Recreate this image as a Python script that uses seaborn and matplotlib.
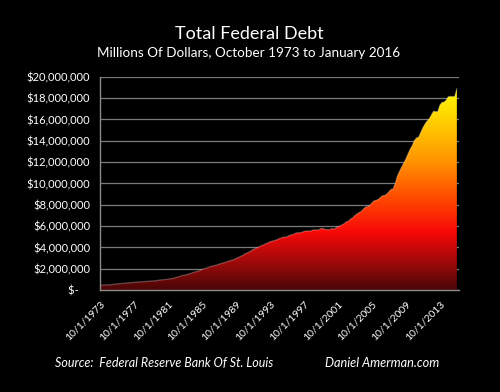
import numpy as np
import pandas as pd
import matplotlib
matplotlib.use("Agg")
import matplotlib.pyplot as plt
import seaborn as sns
from matplotlib.colors import LinearSegmentedColormap

# quarterly total federal debt, millions of dollars, 10/1/1973 .. 10/1/2015
debt = [
    469900,
    474200, 474700, 481400, 492700,
    509700, 533200, 554300, 576600,
    599400, 620400, 634700, 653500,
    670100, 685200, 698800, 718900,
    737700, 750900, 771500, 789200,
    799900, 812200, 826500, 845100,
    862800, 874300, 907700, 930200,
    964500, 971200, 997900, 1028700,
    1061300, 1086800, 1142000, 1197000,
    1244500, 1319600, 1377200, 1410700,
    1463700, 1517200, 1572300, 1663000,
    1710700, 1774600, 1823100, 1945900,
    1986800, 2059300, 2125300, 2214800,
    2246700, 2310300, 2350300, 2431700,
    2488000, 2547700, 2602300, 2684400,
    2740900, 2799900, 2857400, 2953000,
    3052000, 3143800, 3233300, 3364800,
    3465200, 3538000, 3665300, 3802000,
    3881300, 3984700, 4064600, 4177000,
    4230600, 4352000, 4411500, 4535700,
    4575900, 4645800, 4692800, 4800200,
    4864100, 4951400, 4974000, 4988700,
    5117800, 5161100, 5224800, 5323200,
    5380900, 5376200, 5413100, 5502400,
    5542400, 5547900, 5526200, 5614200,
    5651600, 5638800, 5656300, 5776100,
    5773400, 5685900, 5674200, 5662200,
    5773700, 5726800, 5807500, 5943400,
    6006000, 6126500, 6228200, 6405700,
    6460800, 6670100, 6783200, 6998000,
    7131100, 7274300, 7379100, 7596100,
    7776900, 7836500, 7932700, 8170400,
    8371100, 8420000, 8507000, 8680200,
    8849700, 8867700, 9007600, 9229200,
    9437600, 9492000, 10024700, 10699800,
    11126900, 11545300, 11909800, 12311400,
    12773100, 13201800, 13561600, 14025200,
    14270000, 14343100, 14790300, 15222900,
    15582100, 15855500, 16066200, 16432700,
    16771600, 16738200, 16738200, 17352000,
    17601200, 17632600, 17824100, 18141400,
    18152100, 18151900, 18150600, 18922200,
]
dates = pd.date_range("1973-10-01", periods=len(debt), freq="QS-OCT")
date_labels = [f"{d.month}/{d.day}/{d.year}" for d in dates]
y_ticks = [0, 2e6, 4e6, 6e6, 8e6, 10e6, 12e6, 14e6, 16e6, 18e6, 20e6]

df = pd.DataFrame({"idx": np.arange(len(debt)), "debt": debt})

sns.set_theme(style="dark", rc={"axes.facecolor": "black", "figure.facecolor": "black"})
plt.rcParams["font.family"] = ["Lato", "DejaVu Sans"]

fig = plt.figure(figsize=(5, 3.92), dpi=100)
ax = fig.add_axes([0.2, 0.26, 0.718, 0.544])
ax.set_facecolor("black")

# gradient fill under the curve
cmap = LinearSegmentedColormap.from_list("debt", [
    (0.0, "#4a0606"), (0.15, "#a80a0a"), (0.28, "#f80808"),
    (0.45, "#ff4a00"), (0.62, "#ff9000"), (0.8, "#ffc800"), (1.0, "#ffff00")])
poly = ax.fill_between(df["idx"], 0, df["debt"], color="none", lw=0)
grad = np.linspace(0, 1, 256).reshape(-1, 1)
img = ax.imshow(grad, extent=[0, len(debt) - 1, 0, 19.2e6], origin="lower",
                aspect="auto", cmap=cmap, zorder=2)
clip = poly.get_paths()[0]
img.set_clip_path(clip, transform=ax.transData)

# light bevel edge on top of the area
sns.lineplot(data=df, x="idx", y="debt", ax=ax, color="white", alpha=0.25,
             lw=1.0, zorder=3)

ax.set_xlim(0, len(debt) - 1 + 1)
ax.set_ylim(0, 20e6)
ax.set_yticks(y_ticks)
ax.set_yticklabels(["$-    "] + [f"${v:,.0f}" for v in y_ticks[1:]])
xt = list(range(0, len(debt), 16))
ax.set_xticks(xt)
ax.set_xticklabels([date_labels[i] for i in xt], rotation=45, ha="right",
                   rotation_mode="anchor")
ax.tick_params(colors="#9a9a9a", labelcolor="white", labelsize=7.5, length=4,
               width=1, direction="out", pad=3)
ax.tick_params(axis="y", labelsize=8)
ax.grid(axis="y", color="#7a7a7a", lw=0.9, zorder=1)
ax.grid(axis="x", visible=False)
ax.set_axisbelow(True)
for s in ["top", "right"]:
    ax.spines[s].set_visible(False)
for s in ["left", "bottom"]:
    ax.spines[s].set_color("#8a8a8a")
    ax.spines[s].set_linewidth(1)
    ax.spines[s].set_zorder(4)
ax.set_xlabel("")
ax.set_ylabel("")

fig.text(0.498, 0.912, "Total Federal Debt", color="white", fontsize=13,
         ha="center", va="center")
fig.text(0.498, 0.865, "Millions Of Dollars, October 1973 to January 2016",
         color="white", fontsize=9.7, ha="center", va="center")
fig.text(0.11, 0.074, "Source:  Federal Reserve Bank Of St. Louis", color="white",
         fontsize=9, style="italic", ha="left", va="center")
fig.text(0.65, 0.074, "Daniel Amerman.com", color="white", fontsize=9.2,
         style="italic", ha="left", va="center")

fig.savefig("out.png", dpi=100, facecolor="black")
